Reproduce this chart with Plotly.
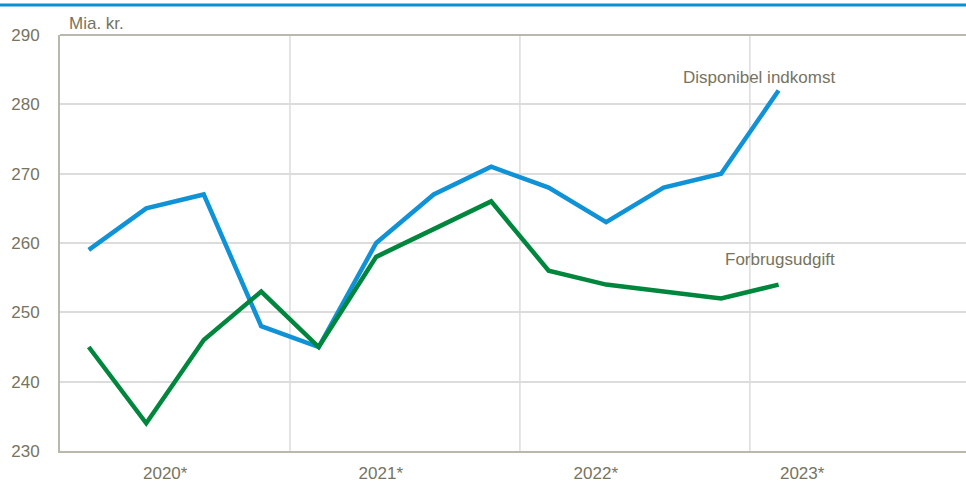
import plotly.graph_objects as go

quarters = ["2020K1", "2020K2", "2020K3", "2020K4",
            "2021K1", "2021K2", "2021K3", "2021K4",
            "2022K1", "2022K2", "2022K3", "2022K4",
            "2023K1"]
disponibel_indkomst = [259, 265, 267, 248, 245, 260, 267, 271, 268, 263, 268, 270, 282]
forbrugsudgift = [245, 234, 246, 253, 245, 258, 262, 266, 256, 254, 253, 252, 254]
year_labels = ["2020*", "2021*", "2022*", "2023*"]
y_ticks = [230, 240, 250, 260, 270, 280, 290]

x_idx = list(range(len(quarters)))

TXT = "#76745f"
FONT = "Liberation Sans, Arial, sans-serif"
BLUE = "#0f92d6"
GREEN = "#00873d"
GRID = "#dcdcdc"
AXIS = "#b8b8ac"

fig = go.Figure()
fig.add_trace(go.Scatter(x=x_idx, y=disponibel_indkomst, mode="lines",
                         line=dict(color=BLUE, width=4.5), name="Disponibel indkomst",
                         hoverinfo="skip"))
fig.add_trace(go.Scatter(x=x_idx, y=forbrugsudgift, mode="lines",
                         line=dict(color=GREEN, width=4.5), name="Forbrugsudgift",
                         hoverinfo="skip"))

# year boundaries (vertical gridlines)
for b in [3.5, 7.5, 11.5]:
    fig.add_shape(type="line", xref="x", yref="paper", x0=b, x1=b, y0=0, y1=1,
                  line=dict(color=GRID, width=1.5), layer="below")
# top border of plot
fig.add_shape(type="line", xref="paper", yref="paper", x0=0, x1=1, y0=1, y1=1,
              line=dict(color=AXIS, width=2), layer="above")
# top blue band
fig.add_shape(type="line", xref="paper", yref="paper", x0=-0.07, x1=1.0, y0=1.072, y1=1.072,
              line=dict(color="#0b8fd3", width=3))

year_pos = [1.33, 5.08, 8.82, 12.41]

fig.update_layout(
    width=966, height=482,
    margin=dict(l=60, r=0, t=35, b=31),
    paper_bgcolor="white", plot_bgcolor="white",
    showlegend=False,
    font=dict(family=FONT, size=17, color=TXT),
    xaxis=dict(range=[-0.5, 15.26], tickmode="array", tickvals=year_pos,
               ticktext=year_labels, showgrid=False, zeroline=False,
               showline=True, linecolor=AXIS, linewidth=2,
               ticks="outside", ticklen=6, tickcolor="rgba(0,0,0,0)",
               tickfont=dict(family=FONT, size=17, color=TXT)),
    yaxis=dict(range=[230, 290], tickmode="array", tickvals=y_ticks,
               showgrid=True, gridcolor=GRID, gridwidth=1.5, zeroline=False,
               showline=True, linecolor=AXIS, linewidth=2,
               ticks="outside", ticklen=15, tickcolor="rgba(0,0,0,0)",
               tickfont=dict(family=FONT, size=17, color=TXT)),
    annotations=[
        dict(text="Mia. kr.", xref="paper", yref="paper", x=0.008, y=1.0,
             xanchor="left", yanchor="bottom", showarrow=False,
             font=dict(family=FONT, size=17, color=TXT)),
        dict(text="Disponibel indkomst", xref="x", yref="y", x=13.02, y=283.9,
             xanchor="right", yanchor="middle", showarrow=False,
             font=dict(family=FONT, size=17, color=TXT)),
        dict(text="Forbrugsudgift", xref="x", yref="y", x=13.02, y=257.6,
             xanchor="right", yanchor="middle", showarrow=False,
             font=dict(family=FONT, size=17, color=TXT)),
    ],
)

fig.write_html("out.html", config={"displayModeBar": False},
               post_script="document.body.style.margin='0';document.body.style.overflow='hidden';")
